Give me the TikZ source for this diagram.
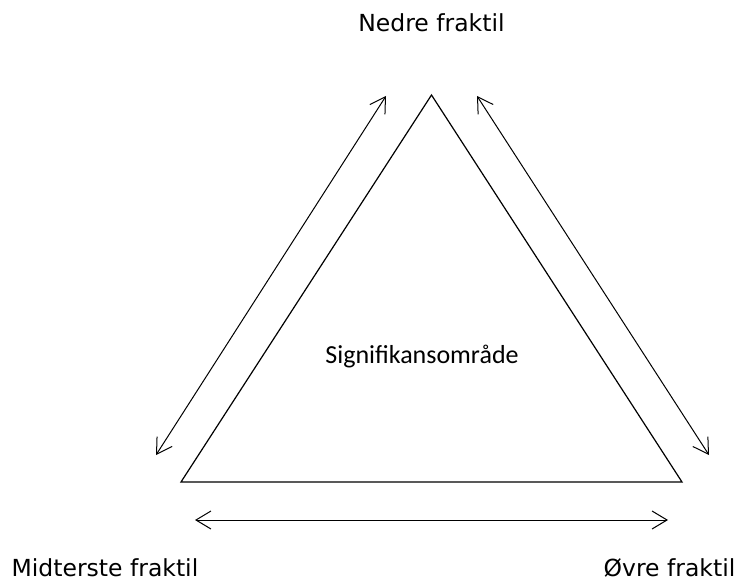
\documentclass[tikz,border=0pt]{standalone}
\usepackage{fontspec}
\setmainfont{DejaVu Sans}
\newfontfamily\calib{Carlito}
\usetikzlibrary{arrows.meta}
\tikzset{
  tri/.style={line width=1.2pt, line join=miter},
  dbl/.style={line width=1pt, {Straight Barb[length=15pt,width=18pt,line width=1pt]}-{Straight Barb[length=15pt,width=18pt,line width=1pt]}},
  lbl/.style={anchor=base, inner sep=0pt, font=\fontsize{23.5}{28}\selectfont},
  mid/.style={anchor=base, inner sep=0pt, font=\calib\fontsize{26}{31}\selectfont}
}
\begin{document}
\begin{tikzpicture}[x=1pt,y=-1pt]
\useasboundingbox (0,0) rectangle (740,583);
% triangle vertices
\coordinate (apex) at (431.5,95);
\coordinate (bl) at (181,482);
\coordinate (br) at (682,482);
\draw[tri] (apex) -- (bl) -- (br) -- cycle;
% arrow end points
\coordinate (la1) at (156,455);
\coordinate (la2) at (386,96);
\coordinate (ra1) at (477,96);
\coordinate (ra2) at (709,455);
\coordinate (ba1) at (195,520);
\coordinate (ba2) at (668,520);
\draw[dbl] (la1) -- (la2);
\draw[dbl] (ra1) -- (ra2);
\draw[dbl] (ba1) -- (ba2);
% labels
\node[lbl] (nedre) at (431.5,32) {Nedre fraktil};
\node[lbl] (midt) at (105,576) {Midterste fraktil};
\node[lbl] (ovre) at (669.5,576) {Øvre fraktil};
\node[mid] (sig) at (422,363) {Signifikansområde};
\end{tikzpicture}
\end{document}
